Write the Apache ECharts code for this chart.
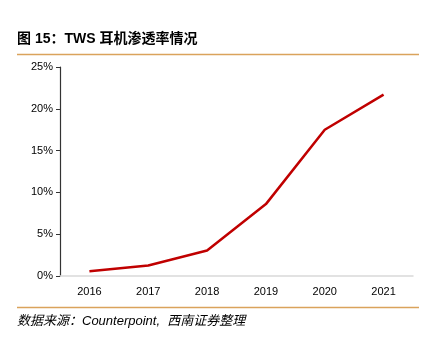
<!DOCTYPE html>
<html>
<head>
<meta charset="utf-8">
<script src="https://cdn.jsdelivr.net/npm/echarts@6/dist/echarts.min.js"></script>
<style>html,body{margin:0;padding:0;background:#fff}#c{width:431px;height:345px}</style>
</head>
<body>
<div id="c"></div>
<script>
var categories = ['2016', '2017', '2018', '2019', '2020', '2021'];
var penetration = [0.56, 1.25, 3.05, 8.6, 17.5, 21.7];
var yTicks = [0, 5, 10, 15, 20, 25];
var titleText = '图 15：TWS 耳机渗透率情况';
var sourceText = '数据来源：Counterpoint,  西南证券整理';

var chart = echarts.init(document.getElementById('c'), null, {renderer: 'canvas'});
chart.setOption({
  animation: false,
  backgroundColor: '#fff',
  grid: {left: 60, right: 18, top: 67, bottom: 69, containLabel: false},
  xAxis: {
    type: 'category',
    data: categories,
    boundaryGap: true,
    axisLine: {lineStyle: {color: '#d9d9d9', width: 1.5}},
    axisTick: {show: false},
    axisLabel: {color: '#000', fontSize: 11, fontFamily: 'Liberation Sans, Arial, sans-serif', margin: 10}
  },
  yAxis: {
    type: 'value',
    min: yTicks[0],
    max: yTicks[yTicks.length - 1],
    interval: 5,
    axisLine: {show: true, lineStyle: {color: '#333', width: 1.2}},
    axisTick: {show: true, length: 4, lineStyle: {color: '#333'}},
    splitLine: {show: false},
    axisLabel: {color: '#000', fontSize: 11, fontFamily: 'Liberation Sans, Arial, sans-serif', margin: 7,
      formatter: function (v) { return v + '%'; }}
  },
  series: [{
    type: 'line',
    data: penetration,
    symbol: 'none',
    lineStyle: {color: '#c00000', width: 2.5},
    z: 3
  }],
  graphic: [
    {type: 'text', left: 17, top: 32, style: {text: titleText, fill: '#000', font: 'bold 14px "Liberation Sans", "Noto Sans CJK SC", sans-serif'}},
    {type: 'line', shape: {x1: 17, y1: 54.5, x2: 419, y2: 54.5}, style: {stroke: '#daa35c', lineWidth: 1.5}},
    {type: 'line', shape: {x1: 17, y1: 307.5, x2: 419, y2: 307.5}, style: {stroke: '#daa35c', lineWidth: 1.5}},
    {type: 'text', left: 17, top: 315, style: {text: sourceText, fill: '#000', font: 'italic 13px "Liberation Sans", "Noto Sans CJK SC", sans-serif'}}
  ]
});
</script>
</body>
</html>
